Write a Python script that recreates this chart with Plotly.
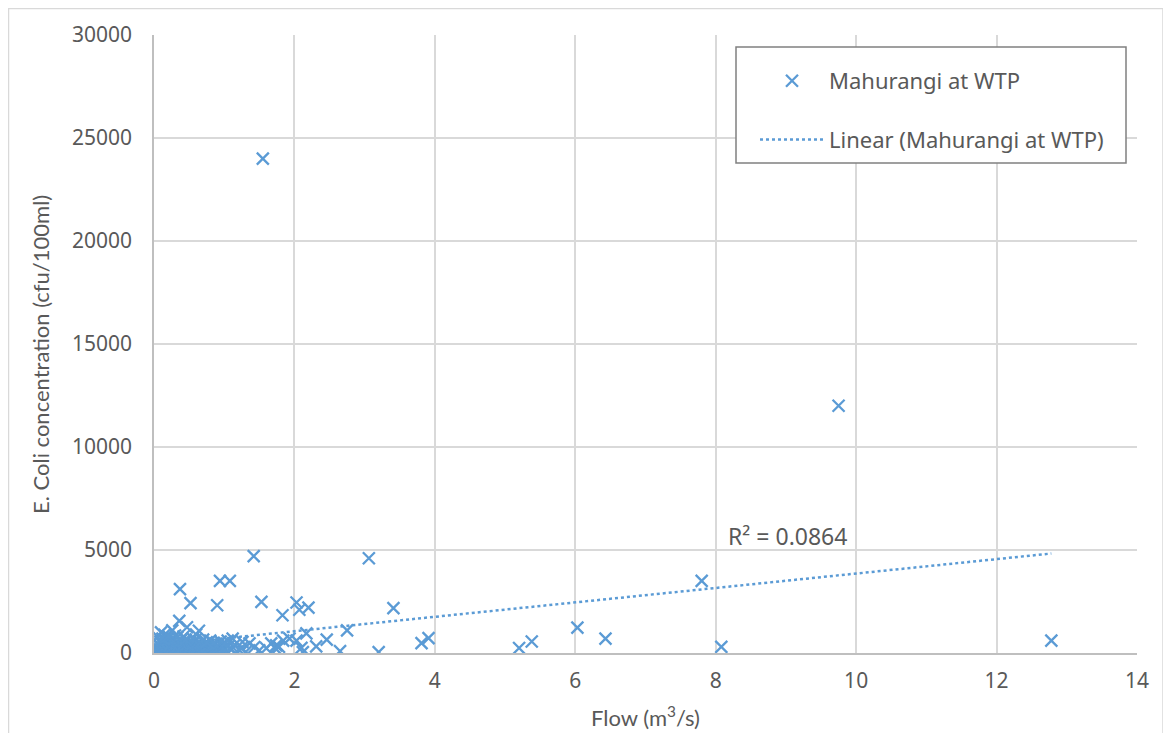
import plotly.graph_objects as go

# ---- data ----
flow = [1.55, 9.75, 12.78, 8.08, 7.80, 6.43, 6.03, 5.38, 5.20, 3.91, 3.81, 3.41, 3.06, 3.20,
        2.75, 2.65, 2.46, 2.31, 2.20, 2.07, 2.03, 1.83, 2.17, 2.10, 2.12, 1.93, 2.03, 1.84, 1.78,
        1.42, 1.53, 0.94, 1.08, 0.90, 0.37, 0.52, 0.36, 0.47, 0.64, 0.10, 0.26,
        1.12, 1.26, 1.36, 1.43, 1.50, 1.60, 1.74, 1.67, 1.22, 1.73,
        0.02, 0.03, 0.04, 0.05, 0.06, 0.07, 0.08, 0.09, 0.10, 0.11,
        0.12, 0.13, 0.14, 0.15, 0.16, 0.17, 0.18, 0.19, 0.20, 0.21,
        0.22, 0.23, 0.24, 0.25, 0.26, 0.27, 0.28, 0.29, 0.30, 0.31,
        0.32, 0.33, 0.34, 0.35, 0.36, 0.37, 0.38, 0.39, 0.40, 0.41,
        0.42, 0.43, 0.44, 0.45, 0.46, 0.47, 0.48, 0.49, 0.50, 0.51,
        0.52, 0.53, 0.54, 0.55, 0.56, 0.57, 0.58, 0.59, 0.60, 0.61,
        0.62, 0.63, 0.64, 0.65, 0.66, 0.67, 0.68, 0.69, 0.70, 0.71,
        0.72, 0.73, 0.74, 0.75, 0.76, 0.77, 0.78, 0.79, 0.80, 0.82,
        0.84, 0.86, 0.88, 0.90, 0.92, 0.94, 0.96, 0.98, 1.00, 1.03,
        1.06, 1.10, 1.15, 1.18, 1.25, 1.30,
        0.05, 0.15, 0.22, 0.30, 0.42, 0.55, 0.60, 0.70, 0.80, 0.85,
        0.95, 1.00, 1.05, 0.12, 0.33, 0.45, 0.75, 0.20]
ecoli = [24000, 12000, 600, 300, 3500, 700, 1230, 560, 240, 720, 480, 2180, 4600, 40,
         1100, 90, 650, 320, 2200, 2100, 2450, 1830, 950, 250, 40, 700, 600, 600, 300,
         4700, 2480, 3500, 3500, 2320, 3100, 2420, 1560, 1250, 1080, 1000, 1100,
         700, 540, 470, 290, 130, 230, 370, 470, 130, 220,
         150, 320, 60, 480, 220, 380, 100, 560, 260, 40,
         420, 180, 300, 90, 650, 240, 400, 130, 520, 60,
         340, 200, 460, 110, 280, 700, 160, 380, 50, 250,
         540, 140, 320, 80, 440, 200, 600, 120, 350, 260,
         70, 480, 180, 310, 90, 420, 230, 150, 550, 40,
         290, 360, 120, 470, 210, 80, 330, 640, 170, 260,
         420, 60, 300, 150, 500, 230, 90, 370, 190, 280,
         50, 450, 140, 320, 220, 80, 400, 160, 260, 110,
         350, 200, 450, 70, 290, 160, 380, 100, 240, 60,
         330, 150, 400, 80, 250, 30,
         800, 880, 750, 850, 800, 700, 900, 650, 600, 500,
         550, 450, 600, 700, 760, 650, 520, 820]

# linear trendline as shown in the chart (y = slope * x + intercept)
trend_slope = 350.0
trend_intercept = 357.0

series_name = "Mahurangi at WTP"
trend_name = "Linear (Mahurangi at WTP)"
r2_label = "R\u00b2 = 0.0864"
x_ticks = [0, 2, 4, 6, 8, 10, 12, 14]
y_ticks = [0, 5000, 10000, 15000, 20000, 25000, 30000]
x_title = "Flow (m<sup>3</sup>/s)"
y_title = "E. Coli concentration (cfu/100ml)"

tx = [min(flow), max(flow)]
ty = [trend_slope * v + trend_intercept for v in tx]

BLUE = "#5B9BD5"
GREY_TXT = "#595959"

OFF = 8  # page body margin
W, H = 1156, 725
L, R, T, B = 146, 27, 27, 80
pw, ph = W - L - R, H - T - B


def px_x(sx):
    return (sx - OFF - L) / pw


def px_y(sy):
    return (H - B - (sy - OFF)) / ph


fig = go.Figure()
fig.add_trace(go.Scatter(
    x=flow, y=ecoli, mode="markers", name=series_name, legendgroup="a",
    marker=dict(symbol="x-thin", size=12, color=BLUE,
                line=dict(color=BLUE, width=2.3)),
))
fig.add_trace(go.Scatter(
    x=tx, y=ty, mode="lines", name=trend_name, legendgroup="b",
    line=dict(color=BLUE, width=2.5, dash="dot"),
))

fig.update_layout(
    width=W, height=H,
    margin=dict(l=L, r=R, t=T, b=B),
    paper_bgcolor="white", plot_bgcolor="white",
    font=dict(family="Noto Sans", color=GREY_TXT, size=17),
    showlegend=True,
    legend=dict(
        x=px_x(755), y=px_y(60), xanchor="left", yanchor="top",
        bgcolor="rgba(0,0,0,0)", borderwidth=0,
        font=dict(family="Noto Sans", size=22, color=GREY_TXT),
        itemwidth=64, tracegroupgap=27,
    ),
    xaxis=dict(
        range=[0, 14], tickvals=x_ticks, tickformat="d", showgrid=True,
        gridcolor="#D9D9D9", gridwidth=1.5,
        zeroline=False, showline=True, linecolor="#BFBFBF", linewidth=2,
        ticks="", ticklabelstandoff=8,
        tickfont=dict(family="Noto Sans", size=21, color=GREY_TXT),
    ),
    yaxis=dict(
        range=[0, 30000], tickvals=y_ticks, tickformat="d", showgrid=True,
        gridcolor="#D9D9D9", gridwidth=1.5,
        zeroline=False, showline=True, linecolor="#BFBFBF", linewidth=1.5,
        ticks="", ticklabelstandoff=16,
        tickfont=dict(family="Noto Sans", size=21, color=GREY_TXT),
    ),
    shapes=[
        dict(type="rect", xref="paper", yref="paper",
             x0=px_x(8.5), x1=px_x(1163), y0=px_y(760), y1=px_y(8.5),
             line=dict(color="#D9D9D9", width=1.5), fillcolor="rgba(0,0,0,0)", layer="below"),
        dict(type="rect", xref="paper", yref="paper",
             x0=px_x(736), x1=px_x(1126), y0=px_y(163), y1=px_y(47),
             line=dict(color="#808080", width=1.5), fillcolor="white", layer="above"),
    ],
    annotations=[
        dict(text=r2_label, x=8.15, y=5670, xref="x", yref="y", xanchor="left", yanchor="middle",
             showarrow=False, font=dict(family="Noto Sans", size=23, color=GREY_TXT)),
        dict(text=x_title, x=px_x(645), y=px_y(716), xref="paper", yref="paper",
             xanchor="center", yanchor="middle", showarrow=False,
             font=dict(family="Lato", size=22, color=GREY_TXT)),
        dict(text=y_title, x=px_x(40), y=px_y(355), xref="paper", yref="paper",
             xanchor="center", yanchor="middle", textangle=-90, showarrow=False,
             font=dict(family="Lato", size=22, color=GREY_TXT)),
    ],
)

fig.write_html("out.html")
